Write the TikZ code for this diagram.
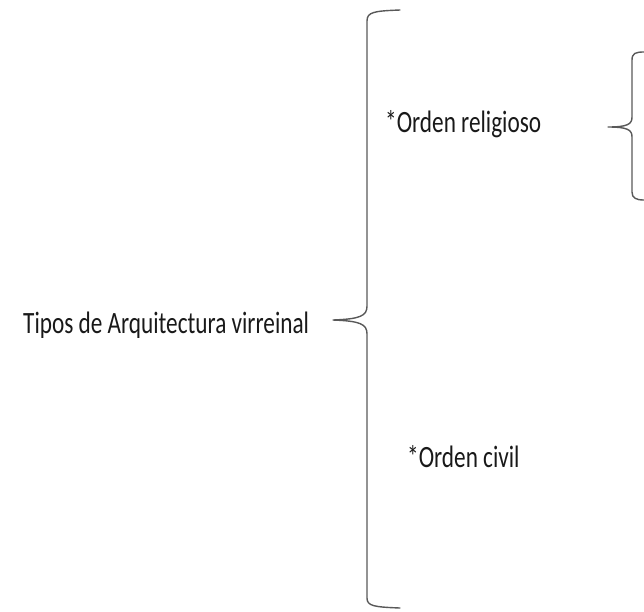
\documentclass[tikz,border=0pt]{standalone}
\usepackage{fontspec}
\setmainfont{Carlito}
\newfontfamily\condfont[FakeStretch=0.75]{Carlito}
\begin{document}
\begin{tikzpicture}[x=1pt,y=-1pt,
  lbl/.style={anchor=base west,inner sep=0pt,text=black!90,font=\condfont\fontsize{31}{37}\selectfont},
  bracepath/.style={draw=black!65,line width=1.4pt,line cap=round,line join=round}]
\useasboundingbox (0,0) rectangle (644,611);
\node[lbl] (tipos) at (23,333) {Tipos de Arquitectura virreinal};
\node[lbl] (relig) at (385,132) {*Orden religioso};
\node[lbl] (civil) at (407,467) {*Orden civil};
% big brace
\coordinate (bigtip) at (333,320);
\draw[bracepath] (400,10) .. controls (374,11) and (367,12) .. (367,21)
  -- (367,306) .. controls (367,316) and (360,319) .. (bigtip)
  .. controls (360,321) and (367,324) .. (367,334)
  -- (367,598) .. controls (367,606) and (374,607) .. (400,608);
% small brace
\coordinate (smalltip) at (608,127);
\draw[bracepath] (644,52) .. controls (636,52) and (632,53) .. (632,60)
  -- (632,117) .. controls (632,124) and (628,127) .. (smalltip)
  .. controls (628,127) and (632,130) .. (632,137)
  -- (632,192) .. controls (632,198) and (636,200) .. (644,200);
\end{tikzpicture}
\end{document}
